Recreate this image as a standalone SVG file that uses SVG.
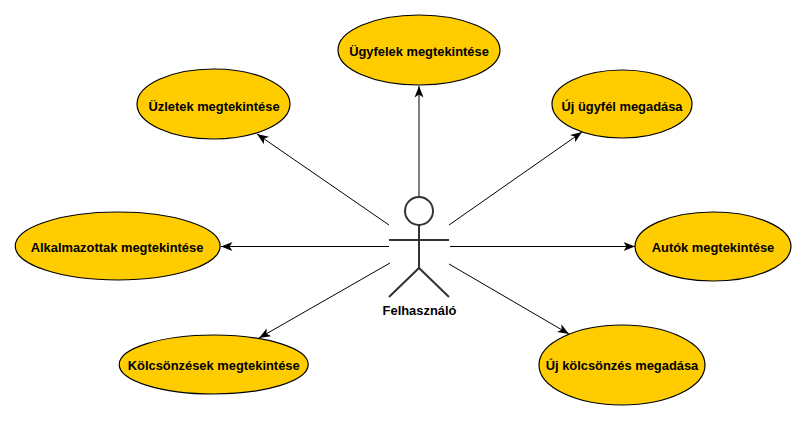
<svg xmlns="http://www.w3.org/2000/svg" width="807" height="421" viewBox="0 0 807 421">
<style>
.n{fill:#ffcc00;stroke:#000;stroke-width:1.2}
text{font-family:"Liberation Sans",Arial,sans-serif;font-size:12.9px;font-weight:bold;fill:#000;text-anchor:middle}
.c line{stroke:#000;stroke-width:1;marker-end:url(#a)}
.s{fill:none;stroke:#333;stroke-width:2}
</style>
<defs><marker id="a" markerUnits="userSpaceOnUse" markerWidth="12" markerHeight="10" refX="11.500" refY="5" orient="auto"><path d="M0 0.500L11.500 5L0 9.500L3 5Z" fill="#000"/></marker></defs>
<rect width="807" height="421" fill="#fff"/>
<g id="connectors" class="c">
<line x1="419" y1="197" x2="419" y2="86"/>
<line x1="389" y1="225" x2="257" y2="134"/>
<line x1="449" y1="225" x2="582" y2="132"/>
<line x1="389" y1="246.500" x2="221" y2="246.500"/>
<line x1="450" y1="246.500" x2="635" y2="246.500"/>
<line x1="390" y1="263" x2="259" y2="338"/>
<line x1="449" y1="264" x2="569" y2="334"/>
</g>
<g id="n1"><ellipse class="n" cx="419" cy="50" rx="81" ry="35"/><text x="419" y="55.500">Ügyfelek megtekintése</text></g>
<g id="n2"><ellipse class="n" cx="213.500" cy="104" rx="76.500" ry="35"/><text x="214" y="110.500">Üzletek megtekintése</text></g>
<g id="n3"><ellipse class="n" cx="622" cy="104" rx="70" ry="34"/><text x="622" y="110.500">Új ügyfél megadása</text></g>
<g id="n4"><ellipse class="n" cx="117.700" cy="246" rx="102.400" ry="34"/><text x="117" y="252">Alkalmazottak megtekintése</text></g>
<g id="n5"><ellipse class="n" cx="713" cy="246.500" rx="78" ry="34.500"/><text x="713" y="252">Autók megtekintése</text></g>
<g id="n6"><ellipse class="n" cx="213.700" cy="364.500" rx="94.500" ry="29.500"/><text x="213.700" y="370">Kölcsönzések megtekintése</text></g>
<g id="n7"><ellipse class="n" cx="622" cy="365" rx="83" ry="40"/><text x="622" y="370">Új kölcsönzés megadása</text></g>
<g id="actor">
<circle class="s" cx="419" cy="211" r="14"/>
<path class="s" d="M419 225V268M389 240H449M389 297L419 268L449 297"/>
<text x="419.500" y="315">Felhasználó</text>
</g>
</svg>
